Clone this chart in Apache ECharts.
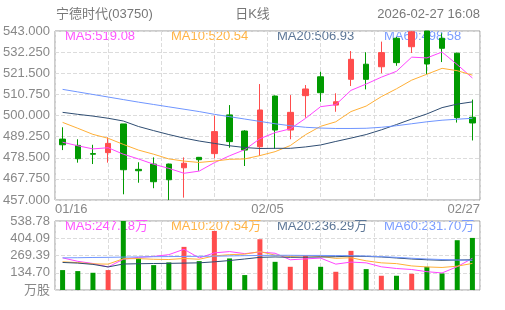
<!DOCTYPE html>
<html>
<head>
<meta charset="utf-8">
<script src="https://cdn.jsdelivr.net/npm/echarts@6/dist/echarts.min.js"></script>
<style>
html,body{margin:0;padding:0;background:#fff;}
#kline{width:505px;height:310px;}
</style>
</head>
<body>
<div id="kline"></div>
<script>
var stockName = '宁德时代(03750)';
var periodName = '日K线';
var updateTime = '2026-02-27 16:08';

var dates = ['01/16','01/19','01/20','01/21','01/22','01/23','01/26','01/27','01/28','01/29','01/30',
	'02/02','02/03','02/04','02/05','02/06','02/09','02/10','02/11','02/12','02/13',
	'02/16','02/20','02/23','02/24','02/25','02/26','02/27'];

// open, close, low, high
var candles = [
	[488.0, 485.1, 482.4, 494.0],
	[484.8, 478.0, 476.0, 487.9],
	[480.6, 480.3, 475.3, 485.1],
	[481.1, 485.8, 476.0, 488.9],
	[495.7, 472.4, 459.9, 495.7],
	[472.6, 471.9, 465.8, 476.2],
	[475.3, 466.3, 463.0, 478.7],
	[475.3, 467.3, 457.0, 475.5],
	[473.4, 475.7, 458.2, 478.7],
	[478.7, 477.5, 471.9, 478.9],
	[480.6, 491.8, 478.2, 499.9],
	[500.3, 486.7, 483.6, 505.3],
	[492.1, 482.4, 474.3, 492.5],
	[484.1, 502.8, 479.4, 516.0],
	[509.9, 492.6, 483.0, 510.2],
	[492.6, 501.6, 487.9, 510.4],
	[510.1, 513.5, 498.9, 515.5],
	[519.7, 511.6, 507.0, 522.3],
	[505.3, 507.0, 501.9, 511.3],
	[518.4, 528.6, 515.0, 532.8],
	[526.1, 518.4, 513.3, 532.2],
	[524.8, 532.0, 521.5, 537.6],
	[539.3, 526.9, 525.3, 540.0],
	[535.0, 542.6, 531.8, 543.0],
	[543.0, 526.2, 521.0, 543.0],
	[539.3, 534.2, 527.2, 541.8],
	[531.7, 498.9, 496.4, 532.0],
	[499.1, 496.2, 487.3, 508.1]
];

var ma5  = [486.4, 484.6, 483.0, 483.6, 480.3, 477.9, 475.2, 473.1, 470.6, 471.7, 476.0, 479.5, 482.6, 488.2,
	491.3, 493.2, 498.5, 504.5, 505.5, 512.8, 516.0, 519.5, 522.5, 529.7, 529.3, 532.3, 525.9, 519.08];
var ma10 = [496.5, 493.5, 490.4, 488.4, 485.3, 482.4, 480.3, 477.9, 476.8, 476.1, 476.8, 477.7, 477.9, 479.6,
	481.6, 484.7, 490.2, 494.5, 496.8, 502.0, 504.8, 509.6, 513.6, 518.0, 521.0, 524.0, 522.8, 520.54];
var ma20 = [501.6, 500.6, 499.7, 498.6, 497.2, 494.4, 492.3, 490.3, 488.5, 487.0, 485.8, 484.6, 483.7, 483.2,
	483.3, 483.3, 484.0, 485.0, 486.8, 488.5, 490.3, 492.7, 495.4, 498.2, 500.8, 504.0, 505.8, 506.93];
var ma60 = [513.3, 512.0, 510.7, 509.4, 508.1, 506.8, 505.6, 504.4, 503.2, 502.0, 500.6, 499.4, 498.2, 497.0,
	495.8, 494.8, 494.0, 493.6, 493.4, 493.4, 493.5, 494.0, 494.8, 495.8, 496.8, 497.6, 498.1, 498.58];

// 万股
var volumes = [155.5, 147.7, 134.5, 155.5, 538.78, 246.4, 194.4, 215.4, 336.7, 225.5, 461.1, 246.4, 116.6, 396.5,
	220.0, 181.2, 272.1, 181.2, 142.3, 305.6, 163.3, 111.2, 111.2, 126.7, 181.2, 129.8, 388.8, 406.6];
var volMa5  = [251, 224, 207, 180, 240, 255, 262, 276, 318, 250, 290, 300, 284, 296,
	287, 236, 243, 249, 202, 218, 212, 181, 168, 160, 143, 133, 182, 247.18];
var volMa10 = [220, 214, 204, 202, 244, 245, 240, 238, 246, 240, 266, 276, 280, 300,
	272, 262, 268, 262, 247, 252, 228, 212, 206, 188, 180, 176, 186, 207.54];
var volMa20 = [215, 210, 200, 180, 203, 205, 207, 208, 210, 212, 220, 230, 242, 255,
	258, 255, 256, 258, 260, 264, 262, 258, 250, 242, 236, 232, 234, 236.29];
var volMa60 = [251, 252, 254, 255, 257, 258, 260, 261, 262, 263, 264, 266, 268, 270,
	271, 271, 270, 270, 269, 268, 265, 260, 255, 248, 242, 238, 234, 231.70];

var maNames = ['MA5', 'MA10', 'MA20', 'MA60'];
var maLast = [519.08, 520.54, 506.93, 498.58];
var volMaLast = [247.18, 207.54, 236.29, 231.70];

var priceTicks = ['457.000', '467.750', '478.500', '489.250', '500.000', '510.750', '521.500', '532.250', '543.000'];
var volTicks = ['万股', '134.70', '269.39', '404.09', '538.78'];
var dateTicks = ['01/16', '02/05', '02/27'];

kline_chart = {
	option:null,
	div:null,
	chart:null,
	upColor:'#ff4d4d',
	downColor:'#009a00',
	maColors:['#ff45ff', '#ffaf36', '#2f4d72', '#6f95ff'],
	labelColors:['#ff55ff', '#ffb446', '#5d7797', '#7b9dff'],
	font:'13px "Liberation Sans", "Noto Sans CJK SC", sans-serif',
	initData:function(div){
		this.div = div;
		this.chart = echarts.init(this.div);
		var self = this;
		var textColor = '#888';
		var dashLine = { show:true, lineStyle:{ color:'#dcdcdc', type:'dashed', width:1 } };

		var graphics = [
			{ type:'text', left:56, top:8, style:{ text:stockName, fill:'#777', font:this.font } },
			{ type:'text', left:'center', top:8, style:{ text:periodName, fill:'#777', font:this.font } },
			{ type:'text', right:25, top:8, style:{ text:updateTime, fill:'#777', font:this.font } }
		];
		var legendX = [65, 171, 277, 384];
		for(var i = 0; i < maNames.length; i++){
			graphics.push({ type:'text', left:legendX[i], top:30, z:0,
				style:{ text:maNames[i] + ':' + maLast[i].toFixed(2), fill:this.labelColors[i], font:this.font } });
			graphics.push({ type:'text', left:legendX[i], top:220, z:0,
				style:{ text:maNames[i] + ':' + volMaLast[i].toFixed(2) + '万', fill:this.labelColors[i], font:this.font } });
		}

		var maSeries = [ma5, ma10, ma20, ma60];
		var volMaSeries = [volMa5, volMa10, volMa20, volMa60];

		this.option = {
			animation:false,
			textStyle:{ fontFamily:'"Liberation Sans", "Noto Sans CJK SC", sans-serif' },
			graphic:graphics,
			grid:[
				{ left:55, right:25, top:31, height:169, show:true, borderColor:'#999', borderWidth:1 },
				{ left:55, right:25, top:221, height:69, show:true, borderColor:'#999', borderWidth:1 }
			],
			xAxis:[
				{ type:'category', gridIndex:0, data:dates, boundaryGap:true, show:false, position:'top' },
				{ type:'category', gridIndex:1, data:dates, boundaryGap:true, show:false, position:'top' },
				{
					type:'value', gridIndex:0, min:0, max:8, interval:1, position:'bottom',
					axisLine:{ show:false }, axisTick:{ show:false },
					splitLine:dashLine,
					axisLabel:{
						color:textColor, fontSize:13, margin:3,
						alignMinLabel:'left', alignMaxLabel:'right',
						formatter:function(v){
							if(v == 0) return dateTicks[0];
							if(v == 4) return dateTicks[1];
							if(v == 8) return dateTicks[2];
							return '';
						}
					}
				},
				{
					type:'value', gridIndex:1, min:0, max:8, interval:1, position:'bottom',
					axisLine:{ show:false }, axisTick:{ show:false }, axisLabel:{ show:false },
					splitLine:dashLine
				}
			],
			yAxis:[
				{
					type:'value', gridIndex:0, min:457, max:543, interval:10.75,
					axisLine:{ show:false }, axisTick:{ show:false },
					splitLine:dashLine,
					axisLabel:{ color:textColor, fontSize:13, margin:5,
						formatter:function(v, idx){ return priceTicks[idx]; } }
				},
				{
					type:'value', gridIndex:1, min:0, max:538.78, interval:134.695,
					axisLine:{ show:false }, axisTick:{ show:false },
					splitLine:dashLine,
					axisLabel:{ color:textColor, fontSize:13, margin:5,
						formatter:function(v, idx){ return volTicks[idx]; } }
				}
			],
			series:[]
		};

		this.option.series.push({
			type:'candlestick', xAxisIndex:0, yAxisIndex:0,
			data:candles, barWidth:6, z:3,
			itemStyle:{
				color:self.upColor, color0:self.downColor,
				borderColor:self.upColor, borderColor0:self.downColor, borderWidth:1
			}
		});
		for(var j = 0; j < maSeries.length; j++){
			this.option.series.push({
				type:'line', xAxisIndex:0, yAxisIndex:0, data:maSeries[j],
				symbol:'none', smooth:false, z:4,
				lineStyle:{ color:this.maColors[j], width:1 }
			});
		}
		this.option.series.push({
			type:'bar', xAxisIndex:1, yAxisIndex:1, data:volumes, barWidth:5, z:3,
			itemStyle:{
				color:function(p){
					var c = candles[p.dataIndex];
					return c[1] >= c[0] ? self.upColor : self.downColor;
				}
			}
		});
		for(var k = 0; k < volMaSeries.length; k++){
			this.option.series.push({
				type:'line', xAxisIndex:1, yAxisIndex:1, data:volMaSeries[k],
				symbol:'none', smooth:false, z:4,
				lineStyle:{ color:this.maColors[k], width:1 }
			});
		}
		this.view();
	},
	view:function(){
		this.chart.setOption(this.option, true);
	}
};

kline_chart.initData(document.getElementById('kline'));
</script>
</body>
</html>
